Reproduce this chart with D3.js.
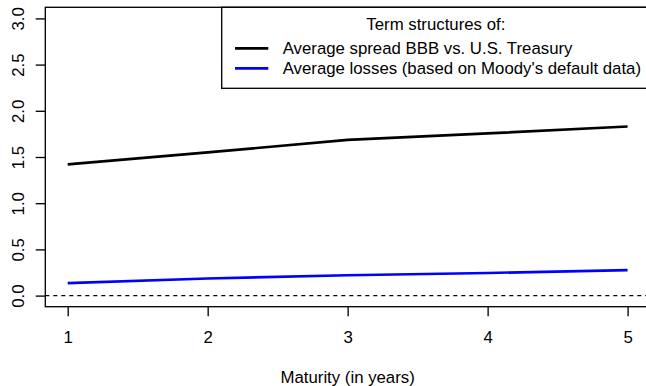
<!DOCTYPE html>
<html>
<head>
<meta charset="utf-8">
<script src="https://cdn.jsdelivr.net/npm/d3@7"></script>
<style>
  body { margin: 0; background: #fff; }
  svg text { font-family: "Liberation Sans", Arial, Helvetica, sans-serif; font-size: 16.8px; fill: #000; }
</style>
</head>
<body>
<div id="chart-area"></div>
<script>
// data
const maturities = [1, 2, 3, 4, 5];
const spreadBBB = [1.42, 1.55, 1.685, 1.755, 1.83];
const avgLosses = [0.135, 0.185, 0.22, 0.245, 0.275];
const xTicks = [1, 2, 3, 4, 5];
const yTicks = [0, 0.5, 1, 1.5, 2, 2.5, 3];
const legendTitle = "Term structures of:";
const legendLabels = ["Average spread BBB vs. U.S. Treasury", "Average losses (based on Moody's default data)"];
const seriesColors = ["#000000", "#0000ff"];

const width = 646, height = 386;
const plot = { left: 45.3, right: 650, top: 7.3, bottom: 306.7 };

const svg = d3.select("#chart-area")
  .append("svg")
    .attr("width", width)
    .attr("height", height);

const x = d3.scaleLinear().domain([0.84, 5.16]).range([plot.left, plot.right]);
const y = d3.scaleLinear().domain([-0.12, 3.12]).range([plot.bottom, plot.top]);

// zero reference line
svg.append("line")
    .attr("x1", plot.left).attr("x2", plot.right)
    .attr("y1", y(0)).attr("y2", y(0))
    .attr("stroke", "#000")
    .attr("stroke-width", 1.3)
    .attr("stroke-dasharray", "4,4");

// series
const series = [spreadBBB, avgLosses];
const line = d3.line()
    .x((d, i) => x(maturities[i]))
    .y(d => y(d));

series.forEach((vals, k) => {
  svg.append("path")
      .datum(vals)
      .attr("d", line)
      .attr("fill", "none")
      .attr("stroke", seriesColors[k])
      .attr("stroke-width", 2.67);
});

// box
svg.append("rect")
    .attr("x", plot.left).attr("y", plot.top)
    .attr("width", plot.right - plot.left)
    .attr("height", plot.bottom - plot.top)
    .attr("fill", "none")
    .attr("stroke", "#000")
    .attr("stroke-width", 1.33);

// x axis
const xAxis = svg.append("g")
    .attr("transform", `translate(0, ${plot.bottom})`)
    .call(d3.axisBottom(x).tickValues(xTicks).tickSize(9.6).tickFormat(d3.format("d")));
xAxis.select(".domain").remove();
xAxis.selectAll("line").attr("stroke-width", 1.33);
xAxis.selectAll("text")
    .attr("font-size", null).attr("font-family", null)
    .attr("dy", null)
    .attr("y", 36.6);

// y axis
const yAxis = svg.append("g")
    .attr("transform", `translate(${plot.left}, 0)`)
    .call(d3.axisLeft(y).tickValues(yTicks).tickSize(9.6).tickFormat(d3.format(".1f")));
yAxis.select(".domain").remove();
yAxis.selectAll("line").attr("stroke-width", 1.33);
yAxis.selectAll("text")
    .attr("font-size", null).attr("font-family", null)
    .attr("text-anchor", "middle")
    .attr("dy", null)
    .attr("x", 0)
    .attr("y", -21.5)
    .attr("transform", "rotate(-90)");

// x label
svg.append("text")
    .attr("x", (plot.left + plot.right) / 2)
    .attr("y", 383.3)
    .attr("text-anchor", "middle")
    .text("Maturity (in years)");

// legend
const legend = svg.append("g");
legend.append("rect")
    .attr("x", 221.7).attr("y", plot.top)
    .attr("width", 450).attr("height", 81)
    .attr("fill", "#fff")
    .attr("stroke", "#000")
    .attr("stroke-width", 1.33);
legend.append("text")
    .attr("x", (221.7 + plot.right) / 2)
    .attr("y", 29.5)
    .attr("text-anchor", "middle")
    .text(legendTitle);
legendLabels.forEach((lab, i) => {
  const ly = 48.3 + i * 20;
  legend.append("line")
      .attr("x1", 235).attr("x2", 268.3)
      .attr("y1", ly).attr("y2", ly)
      .attr("stroke", seriesColors[i])
      .attr("stroke-width", 2.67);
  legend.append("text")
      .attr("x", 282.7)
      .attr("y", ly + 5.9)
      .text(lab);
});
</script>
</body>
</html>
